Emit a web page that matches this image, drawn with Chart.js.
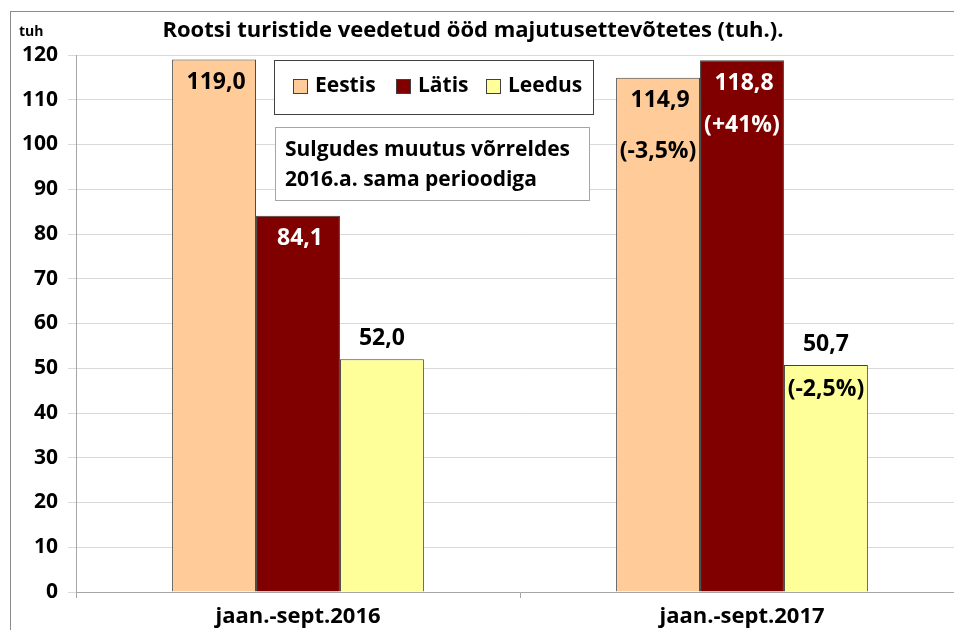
<!DOCTYPE html>
<html>
<head>
<meta charset="utf-8">
<script src="https://cdn.jsdelivr.net/npm/chart.js@4/dist/chart.umd.min.js"></script>
<style>
  html, body { margin: 0; padding: 0; background: #fff; overflow: hidden; }
  #wrap { width: 980px; height: 630px; }
</style>
</head>
<body>
<div id="wrap"><canvas id="c" width="980" height="630"></canvas></div>
<script>
const labels = ['jaan.-sept.2016', 'jaan.-sept.2017'];
const eestis = [119.0, 114.9];
const latis = [84.1, 118.8];
const leedus = [52.0, 50.7];
const eestisChange = ['', '(-3,5%)'];
const latisChange = ['', '(+41%)'];
const leedusChange = ['', '(-2,5%)'];
const yTicks = [0, 10, 20, 30, 40, 50, 60, 70, 80, 90, 100, 110, 120];

const FONT = '"Open Sans", Lato, sans-serif';
const fmt = v => v.toFixed(1).replace('.', ',');

// frame, title, legend box and note box
const decor = {
  id: 'decor',
  beforeDraw(chart) {
    const c = chart.ctx;
    c.save();
    c.strokeStyle = '#8c8c8c';
    c.lineWidth = 1;
    c.strokeRect(10.5, 11.5, 2000, 2000);
    c.restore();
  },
  afterDraw(chart) {
    const c = chart.ctx;
    c.save();
    c.fillStyle = '#000';
    c.textBaseline = 'middle';
    c.font = 'bold 22px ' + FONT;
    c.textAlign = 'center';
    c.fillText('Rootsi turistide veedetud ööd majutusettevõtetes (tuh.).', 473, 31);
    c.font = 'bold 14px ' + FONT;
    c.textAlign = 'left';
    c.fillText('tuh', 19, 32);

    // legend
    c.fillStyle = '#fff';
    c.fillRect(274, 60, 319, 54);
    c.strokeStyle = '#404040';
    c.strokeRect(274.5, 60.5, 319, 54);
    const items = chart.data.datasets;
    const sx = [293, 396, 486];
    c.font = 'bold 21px ' + FONT;
    items.forEach((ds, i) => {
      c.fillStyle = ds.backgroundColor;
      c.fillRect(sx[i], 79, 14, 14);
      c.strokeStyle = '#404040';
      c.strokeRect(sx[i] + 0.5, 79.5, 14, 14);
      c.fillStyle = '#000';
      c.fillText(ds.label, sx[i] + 22, 86);
    });

    // note
    c.fillStyle = '#fff';
    c.fillRect(275, 127, 314, 73);
    c.strokeStyle = '#a6a6a6';
    c.strokeRect(275.5, 127.5, 314, 73);
    c.fillStyle = '#000';
    c.fillText('Sulgudes muutus võrreldes', 285, 150);
    c.fillText('2016.a. sama perioodiga', 285, 180);
    c.restore();
  }
};

// value and change labels
const barLabels = {
  id: 'barLabels',
  afterDatasetsDraw(chart) {
    const c = chart.ctx;
    c.save();
    c.font = 'bold 23px ' + FONT;
    c.textAlign = 'center';
    c.textBaseline = 'middle';
    chart.data.datasets.forEach((ds, di) => {
      const meta = chart.getDatasetMeta(di);
      meta.data.forEach((bar, i) => {
        const v = ds.data[i];
        const ch = ds.changes[i];
        if (di === 2) {
          c.fillStyle = '#000';
          c.fillText(fmt(v), bar.x, bar.y - 21);
          if (ch) c.fillText(ch, bar.x, bar.y + 24);
        } else {
          c.fillStyle = di === 1 ? '#fff' : '#000';
          c.fillText(fmt(v), bar.x + 2, bar.y + 23);
          if (ch) c.fillText(ch, bar.x, bar.y + (di === 1 ? 65 : 74));
        }
      });
    });
    c.restore();
  }
};

new Chart(document.getElementById('c'), {
  type: 'bar',
  data: {
    labels: labels,
    datasets: [
      { label: 'Eestis', data: eestis, changes: eestisChange, backgroundColor: '#FFCC99', borderColor: '#404040', borderWidth: 1 },
      { label: 'Lätis', data: latis, changes: latisChange, backgroundColor: '#800000', borderColor: '#404040', borderWidth: 1 },
      { label: 'Leedus', data: leedus, changes: leedusChange, backgroundColor: '#FFFF99', borderColor: '#404040', borderWidth: 1 }
    ]
  },
  options: {
    responsive: false,
    animation: false,
    layout: { padding: { top: 55, right: 16, bottom: 0, left: 0 } },
    datasets: { bar: { categoryPercentage: 0.567, barPercentage: 1 } },
    plugins: {
      legend: { display: false },
      tooltip: { enabled: false }
    },
    scales: {
      x: {
        afterFit(s) { s.height = 38; },
        grid: { offset: true, drawOnChartArea: false, color: '#a6a6a6', tickLength: 6 },
        border: { color: '#a6a6a6' },
        ticks: { color: '#000', padding: 6, font: { family: FONT, size: 22, weight: 'bold' } }
      },
      y: {
        min: 0,
        max: 120,
        afterFit(s) { s.width = 76; },
        afterBuildTicks(s) { s.ticks = yTicks.map(v => ({ value: v })); },
        grid: { color: '#d9d9d9', tickLength: 8 },
        border: { color: '#a6a6a6' },
        ticks: { color: '#000', padding: 10, font: { family: FONT, size: 21, weight: 'bold' } }
      }
    }
  },
  plugins: [decor, barLabels]
});
</script>
</body>
</html>
